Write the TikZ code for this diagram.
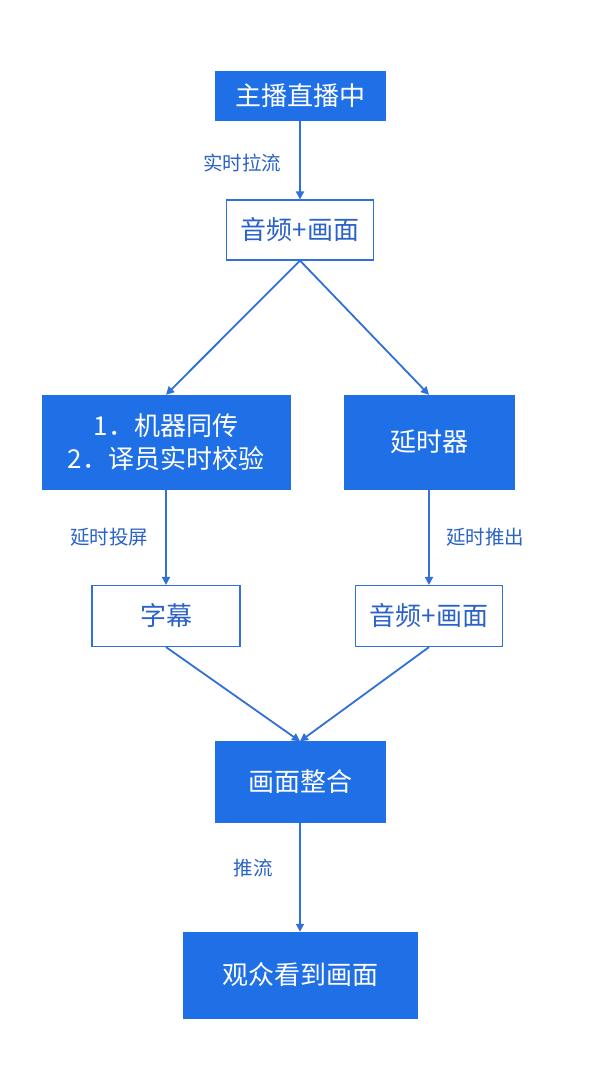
\documentclass[tikz,border=0pt]{standalone}
\usepackage{fontspec}
\setmainfont{Noto Sans CJK SC}
\usepackage{tikz}
\usetikzlibrary{arrows.meta, positioning}
\definecolor{mainblue}{RGB}{31,111,230}
\definecolor{lineblue}{RGB}{47,112,218}
\definecolor{textblue}{RGB}{42,98,201}

\begin{document}
\begin{tikzpicture}[x=1pt, y=-1pt,
  solid box/.style={rectangle, fill=mainblue, draw=mainblue, text=white, align=center,
                    font=\fontsize{26}{33}\selectfont, inner sep=0pt},
  plain box/.style={rectangle, fill=white, draw=lineblue, line width=1.2pt, text=textblue,
                    align=center, font=\fontsize{26}{33}\selectfont, inner sep=0pt},
  arrow/.style={-{Triangle[length=8pt, width=8pt]}, line width=1.8pt, draw=lineblue},
  lbl/.style={text=textblue, font=\fontsize{19.5}{22}\selectfont, inner sep=0pt}
]
\useasboundingbox[fill=white] (0,0) rectangle (600,1071);
\node[solid box, minimum width=170pt, minimum height=49pt] (live) at (300,96) {主播直播中};
\node[plain box, minimum width=147pt, minimum height=60pt] (av) at (300,230) {音频+画面};
\node[solid box, minimum width=248pt, minimum height=94pt] (trans) at (166,442) {1．机器同传\\2．译员实时校验};
\node[solid box, minimum width=170pt, minimum height=94pt] (delay) at (429,442) {延时器};
\node[plain box, minimum width=148pt, minimum height=61pt] (sub) at (166,616) {字幕};
\node[plain box, minimum width=147pt, minimum height=61pt] (av2) at (429,616) {音频+画面};
\node[solid box, minimum width=170pt, minimum height=81pt] (merge) at (300,782) {画面整合};
\node[solid box, minimum width=234pt, minimum height=86pt] (view) at (300,975) {观众看到画面};
\node[lbl] (l1) at (242,163) {实时拉流};
\node[lbl] (l2) at (109,537) {延时投屏};
\node[lbl] (l3) at (485,537) {延时推出};
\node[lbl] (l4) at (253,868) {推流};
\draw[arrow] (live) -- (av);
\draw[arrow] (av.south) -- (trans.north);
\draw[arrow] (av.south) -- (delay.north);
\draw[arrow] (trans) -- (sub);
\draw[arrow] (delay) -- (av2);
\draw[arrow] (sub.south) -- (merge.north);
\draw[arrow] (av2.south) -- (merge.north);
\draw[arrow] (merge) -- (view);
\end{tikzpicture}
\end{document}
